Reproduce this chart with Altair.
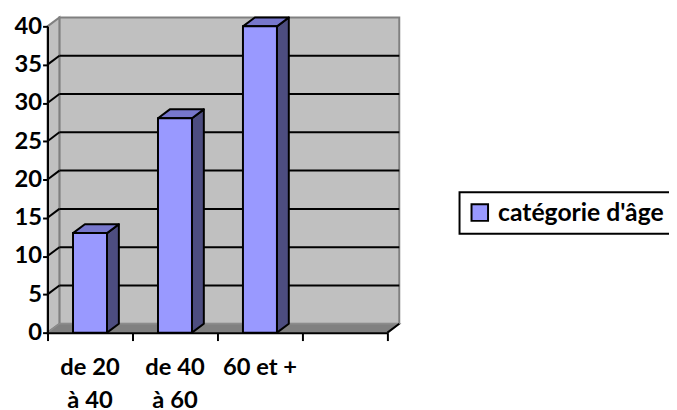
import altair as alt
import pandas as pd

# ---- data ----
categories = ["de 20\nà 40", "de 40\nà 60", "60 et +"]
values = [13, 28, 40]
series_name = "catégorie d'âge"
y_ticks = [0, 5, 10, 15, 20, 25, 30, 35, 40]
n_slots = 4  # the category axis has one empty slot at the end

# ---- layout constants ----
W, H = 344, 310
YMAX = 40
DXU = 12 / (W / n_slots)   # 3D depth in x data units
DYU = 9 / (H / YMAX)       # 3D depth in y data units
BAR_PAD = 0.3
FONT = "Lato"
FS = 24

xs = alt.Scale(domain=[0, n_slots], nice=False, zero=False)
ys = alt.Scale(domain=[0, YMAX], nice=False, zero=False)

x_axis = alt.Axis(values=list(range(n_slots + 1)), labels=False, grid=False,
                  tickSize=8, tickWidth=2, tickColor="black",
                  domainColor="black", domainWidth=2, zindex=1)
y_axis = alt.Axis(values=y_ticks, grid=False, tickSize=5, tickWidth=2,
                  tickColor="black", domainColor="black", domainWidth=2,
                  labelFont=FONT, labelFontSize=FS, labelFontWeight="bold",
                  labelColor="black", labelPadding=1, zindex=1)


def X(f):
    return alt.X(f, scale=xs, axis=x_axis, title=None)


def Y(f):
    return alt.Y(f, scale=ys, axis=y_axis, title=None)


# ---- derived tables ----
front = pd.DataFrame({
    "cat": categories,
    "value": values,
    "x0": [i + BAR_PAD for i in range(len(values))],
    "x1": [i + 1 - BAR_PAD for i in range(len(values))],
    "series": [series_name] * len(values),
})

side_rows, top_rows = [], []
for i, (c, v) in enumerate(zip(categories, values)):
    x0, x1 = i + BAR_PAD, i + 1 - BAR_PAD
    side_rows += [
        {"cat": c, "x": x1, "y": 0, "y2": v},
        {"cat": c, "x": x1 + DXU, "y": DYU, "y2": v + DYU},
    ]
    top_rows += [
        {"cat": c, "y": v, "x": x0, "x2": x1},
        {"cat": c, "y": v + DYU, "x": x0 + DXU, "x2": x1 + DXU},
    ]
side = pd.DataFrame(side_rows)
top = pd.DataFrame(top_rows)

wall = pd.DataFrame({"x": [DXU], "x2": [n_slots + DXU], "y": [DYU], "y2": [YMAX + DYU]})
left_wall = pd.DataFrame({"x": [0, DXU], "y": [0, DYU], "y2": [YMAX, YMAX + DYU]})
floor = pd.DataFrame({"y": [0, DYU], "x": [0, DXU], "x2": [n_slots, n_slots + DXU]})
inner = y_ticks[1:-1]
grid = pd.DataFrame({"v": [t + DYU for t in inner], "x": DXU, "x2": n_slots + DXU})
side_grid = pd.DataFrame({"x": 0.0, "x2": DXU, "y": inner, "y2": [t + DYU for t in inner]})
floor_end = pd.DataFrame({"x": [n_slots], "x2": [n_slots + DXU], "y": [0], "y2": [DYU]})
labels = pd.DataFrame({"x": [i + 0.5 for i in range(len(categories))], "label": categories, "y": 0})

wall_layer = alt.Chart(wall).mark_rect(fill="#C0C0C0", stroke="#808080", strokeWidth=2).encode(
    x=X("x:Q"), x2="x2:Q", y=Y("y:Q"), y2="y2:Q")

left_layer = alt.Chart(left_wall).mark_area(fill="#C0C0C0", stroke="#808080", strokeWidth=2,
                                            orient="vertical").encode(
    x=X("x:Q"), y=Y("y:Q"), y2="y2:Q")

floor_layer = alt.Chart(floor).mark_area(fill="#808080", stroke="#8C8C8C", strokeWidth=1.5,
                                         orient="horizontal").encode(
    y=Y("y:Q"), x=X("x:Q"), x2="x2:Q")

grid_layer = alt.Chart(grid).mark_rule(color="black", strokeWidth=2).encode(
    y=Y("v:Q"), x=X("x:Q"), x2="x2:Q")

side_grid_layer = alt.Chart(side_grid).mark_rule(color="black", strokeWidth=2).encode(
    x=X("x:Q"), x2="x2:Q", y=Y("y:Q"), y2="y2:Q")

side_layer = alt.Chart(side).mark_area(fill="#4D4D80", stroke="black", strokeWidth=2,
                                       strokeJoin="round", orient="vertical").encode(
    x=X("x:Q"), y=Y("y:Q"), y2="y2:Q", detail="cat:N")

top_layer = alt.Chart(top).mark_area(fill="#7777CC", stroke="black", strokeWidth=2,
                                     strokeJoin="round", orient="horizontal").encode(
    y=Y("y:Q"), x=X("x:Q"), x2="x2:Q", detail="cat:N")

front_layer = alt.Chart(front).mark_rect(stroke="black", strokeWidth=2).encode(
    x=X("x0:Q"), x2="x1:Q",
    y=Y("value:Q"), y2=alt.Y2(datum=0),
    color=alt.Color("series:N", scale=alt.Scale(range=["#9999FF"]),
                    legend=alt.Legend(title=None, orient="none", legendX=417, legendY=168,
                                      symbolType="square", symbolSize=280,
                                      symbolStrokeColor="black", symbolStrokeWidth=2,
                                      labelFont=FONT, labelFontSize=25,
                                      labelFontWeight="bold", labelColor="black",
                                      labelOffset=6, labelLimit=0,
                                      strokeColor="black", fillColor="white",
                                      padding=8)),
)

end_layer = alt.Chart(floor_end).mark_rule(color="black", strokeWidth=2).encode(
    x=X("x:Q"), x2="x2:Q", y=Y("y:Q"), y2="y2:Q")

label_layer = alt.Chart(labels).mark_text(
    font=FONT, fontSize=FS, fontWeight="bold", color="black",
    baseline="top", align="center", dy=24, lineBreak="\n", lineHeight=33).encode(
    x=X("x:Q"), y=Y("y:Q"), text="label:N")

chart = alt.layer(
    wall_layer, left_layer, floor_layer, grid_layer, side_grid_layer,
    side_layer, top_layer, front_layer, end_layer, label_layer,
).properties(
    width=W, height=H,
    autosize=alt.AutoSizeParams(type="none"),
    padding={"left": 40, "top": 16, "right": 285, "bottom": 100},
).configure_view(stroke=None).configure_legend(strokeWidth=2)

chart.save("out.html", embed_options={"renderer": "svg", "actions": False})
